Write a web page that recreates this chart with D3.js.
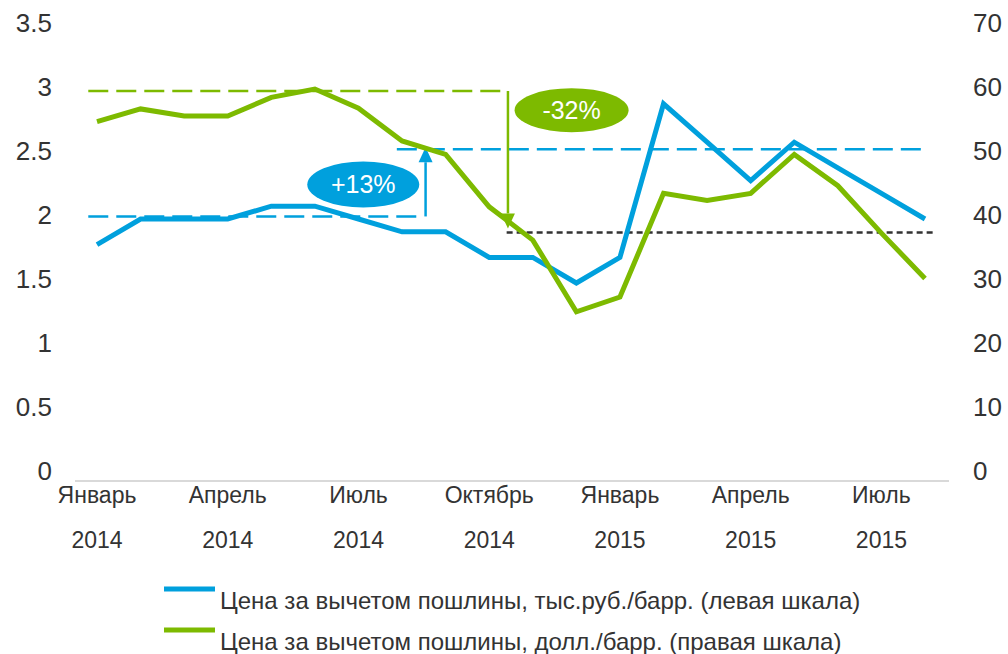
<!DOCTYPE html>
<html>
<head>
<meta charset="utf-8">
<script src="https://cdn.jsdelivr.net/npm/d3@7"></script>
<style>
  html, body { margin: 0; padding: 0; background: #fff; }
  svg text { font-family: "Liberation Sans", Arial, sans-serif; fill: #333; }
</style>
</head>
<body>
<svg id="chart" width="1008" height="654"></svg>
<script>
// month index 0 = January 2014 ... 19 = August 2015
const MONTHS = d3.range(20)

// Price net of export duty, thousand rub / barrel (left axis)
const PRICE_RUB = [1.8, 2.0, 2.0, 2.0, 2.1, 2.1, 2.0, 1.9, 1.9, 1.7, 1.7, 1.5, 1.7, 2.9, 2.6, 2.3, 2.6, 2.4, 2.2, 2.0]
// Price net of export duty, USD / barrel (right axis)
const PRICE_USD = [55.2, 57.2, 56.1, 56.1, 59.0, 60.3, 57.3, 52.2, 50.1, 41.9, 36.7, 25.5, 27.8, 44.0, 42.9, 44.0, 50.1, 45.2, 37.8, 30.7]

// x axis ticks: every third month
const TICK_INDEX = [0, 3, 6, 9, 12, 15, 18]
const TICK_MONTH = ["Январь", "Апрель", "Июль", "Октябрь", "Январь", "Апрель", "Июль"]
const TICK_YEAR = ["2014", "2014", "2014", "2014", "2015", "2015", "2015"]

const LEFT_TICKS = [0, 0.5, 1, 1.5, 2, 2.5, 3, 3.5]
const RIGHT_TICKS = [0, 10, 20, 30, 40, 50, 60, 70]

const LEGEND_LABELS = [
    "Цена за вычетом пошлины, тыс.руб./барр. (левая шкала)",
    "Цена за вычетом пошлины, долл./барр. (правая шкала)"
]

const BLUE = "#00A0DD"
const GREEN = "#7DBA00"

const svg = d3.select("#chart")

const x = d3.scaleLinear().domain([0, 19]).range([97, 925])
const yL = d3.scaleLinear().domain([0, 3.5]).range([475, 27])
const yR = d3.scaleLinear().domain([0, 70]).range([475, 27])

// axis base line
svg.append("line")
    .attr("x1", 75).attr("x2", 949)
    .attr("y1", 481).attr("y2", 481)
    .attr("stroke", "#d9d9d9")
    .attr("stroke-width", 2)

// left axis labels
svg.append("g")
    .selectAll("text")
    .data(LEFT_TICKS)
    .enter()
    .append("text")
    .attr("x", 52)
    .attr("y", (d) => yL(d) - 4)
    .attr("dy", "0.35em")
    .attr("text-anchor", "end")
    .attr("font-size", 26)
    .text((d) => d)

// right axis labels
svg.append("g")
    .selectAll("text")
    .data(RIGHT_TICKS)
    .enter()
    .append("text")
    .attr("x", 973)
    .attr("y", (d) => yR(d) - 4)
    .attr("dy", "0.35em")
    .attr("text-anchor", "start")
    .attr("font-size", 26)
    .text((d) => d)

// x axis labels (two rows)
const xTicks = svg.append("g")
    .selectAll("g")
    .data(TICK_INDEX)
    .enter()
    .append("g")
    .attr("transform", (d) => `translate(${x(d)}, 0)`)
xTicks.append("text")
    .attr("y", 503)
    .attr("text-anchor", "middle")
    .attr("font-size", 23)
    .text((d, i) => TICK_MONTH[i])
xTicks.append("text")
    .attr("y", 548)
    .attr("text-anchor", "middle")
    .attr("font-size", 23)
    .text((d, i) => TICK_YEAR[i])

// ---- annotations (drawn under the series) ----
// levels, in data units of each axis
const annot = {
    blueLow: 2.02, blueHigh: 2.545,
    greenHigh: 60, greenLow: 37.9
}

function dashed(x1, x2, yy, color, dash) {
    svg.append("line")
        .attr("x1", x1).attr("x2", x2)
        .attr("y1", yy).attr("y2", yy)
        .attr("stroke", color)
        .attr("stroke-width", 2.5)
        .attr("stroke-dasharray", dash)
}

dashed(x(-0.2), x(9.37), yR(annot.greenHigh), GREEN, "20,8")
dashed(x(-0.2), x(7.36), yL(annot.blueLow), BLUE, "20,8")
dashed(x(6.88), x(19), yL(annot.blueHigh), BLUE, "20,8")
dashed(x(9.4), x(19.2), yR(annot.greenLow), "#333", "6,4")

// arrows
function arrow(xx, yFrom, yTo, color) {
    const dir = yTo < yFrom ? 1 : -1
    const head = 15
    svg.append("line")
        .attr("x1", xx).attr("x2", xx)
        .attr("y1", yFrom).attr("y2", yTo + dir * head)
        .attr("stroke", color)
        .attr("stroke-width", 2.5)
    svg.append("path")
        .attr("d", `M${xx},${yTo} L${xx - 7},${yTo + dir * head} L${xx + 7},${yTo + dir * head} Z`)
        .attr("fill", color)
}
arrow(x(7.54), yL(annot.blueLow), yL(annot.blueHigh) - 2, BLUE)
arrow(x(9.43), yR(annot.greenHigh), yR(annot.greenLow) - 4, GREEN)

// series lines
const lineL = d3.line().x((d, i) => x(MONTHS[i])).y((d) => yL(d))
const lineR = d3.line().x((d, i) => x(MONTHS[i])).y((d) => yR(d))

svg.append("path")
    .attr("d", lineL(PRICE_RUB))
    .attr("fill", "none")
    .attr("stroke", BLUE)
    .attr("stroke-width", 5)
    .attr("stroke-linejoin", "miter")

svg.append("path")
    .attr("d", lineR(PRICE_USD))
    .attr("fill", "none")
    .attr("stroke", GREEN)
    .attr("stroke-width", 5)
    .attr("stroke-linejoin", "miter")

// percentage bubbles
function bubble(cx, cy, rx, ry, color, label) {
    svg.append("ellipse")
        .attr("cx", cx).attr("cy", cy)
        .attr("rx", rx).attr("ry", ry)
        .attr("fill", color)
    svg.append("text")
        .attr("x", cx).attr("y", cy)
        .attr("dy", "0.35em")
        .attr("text-anchor", "middle")
        .attr("font-size", 25)
        .style("fill", "#fff")
        .text(label)
}
bubble(x(6.11), yL(2.27), 56, 23, BLUE, "+13%")
bubble(x(10.89), yR(57.0), 57, 22, GREEN, "-32%")

// legend
const legend = svg.append("g")
    .selectAll("g")
    .data(LEGEND_LABELS)
    .enter()
    .append("g")
    .attr("transform", (d, i) => `translate(0, ${i * 41})`)
legend.append("line")
    .attr("x1", 164).attr("x2", 215)
    .attr("y1", 589).attr("y2", 589)
    .attr("stroke", (d, i) => [BLUE, GREEN][i])
    .attr("stroke-width", 5)
legend.append("text")
    .attr("x", 220)
    .attr("y", 609)
    .attr("font-size", 24)
    .text((d) => d)
</script>
</body>
</html>
